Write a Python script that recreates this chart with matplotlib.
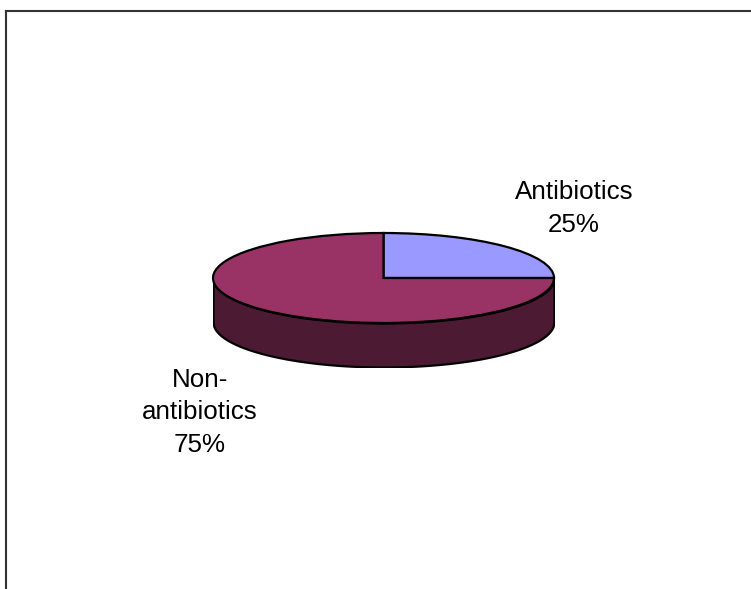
import numpy as np
import matplotlib.pyplot as plt
from matplotlib.lines import Line2D

# data
categories = ["Antibiotics", "Non-antibiotics"]
label_text = ["Antibiotics\n25%", "Non-\nantibiotics\n75%"]
shares = [25, 75]

top_colors = ["#9999FF", "#993366"]
side_color = "#4D1A33"

W, H = 751, 589
fig = plt.figure(figsize=(W / 100, H / 100), dpi=100)
fig.patch.set_facecolor("white")

# chart frame (only top and left edges visible)
fig.add_artist(Line2D([5.5 / W, 1], [1 - 10.5 / H, 1 - 10.5 / H], transform=fig.transFigure,
                      color="#333333", lw=1.5, solid_capstyle="projecting"))
fig.add_artist(Line2D([5.5 / W, 5.5 / W], [0, 1 - 10.5 / H], transform=fig.transFigure,
                      color="#333333", lw=1.5, solid_capstyle="projecting"))

# pie axes: ellipse of 341 x 90 px plus 44 px depth
cx, cy, rx, ry, depth = 383.5, 278, 170.5, 45, 44
ax = fig.add_axes([(cx - rx) / W, 1 - (cy + ry + depth) / H, 2 * rx / W, (2 * ry + depth) / H])

# side of the disc (front half, belongs to the Non-antibiotics slice)
d = depth / ry
xs = np.linspace(-1, 1, 400)
y_top = -np.sqrt(1 - xs ** 2)
ax.fill_between(xs, y_top, y_top - d, color=side_color, edgecolor="black", lw=1.6, zorder=1)

ax.pie(shares, colors=top_colors, startangle=90, counterclock=False, radius=1,
       wedgeprops=dict(edgecolor="black", linewidth=1.6), frame=False)
ax.set_aspect("auto")
ax.set_xlim(-1, 1)
ax.set_ylim(-1 - d, 1)
ax.axis("off")

# labels, anchored at the baseline of their last line
font = dict(family="Liberation Sans", fontsize=18.7, color="black", ha="center",
            va="baseline", linespacing=1.45)
fig.text(574 / W, 1 - 232 / H, label_text[0], **font)
fig.text(200 / W, 1 - 452 / H, label_text[1], **font)

fig.savefig("out.png", dpi=100)
